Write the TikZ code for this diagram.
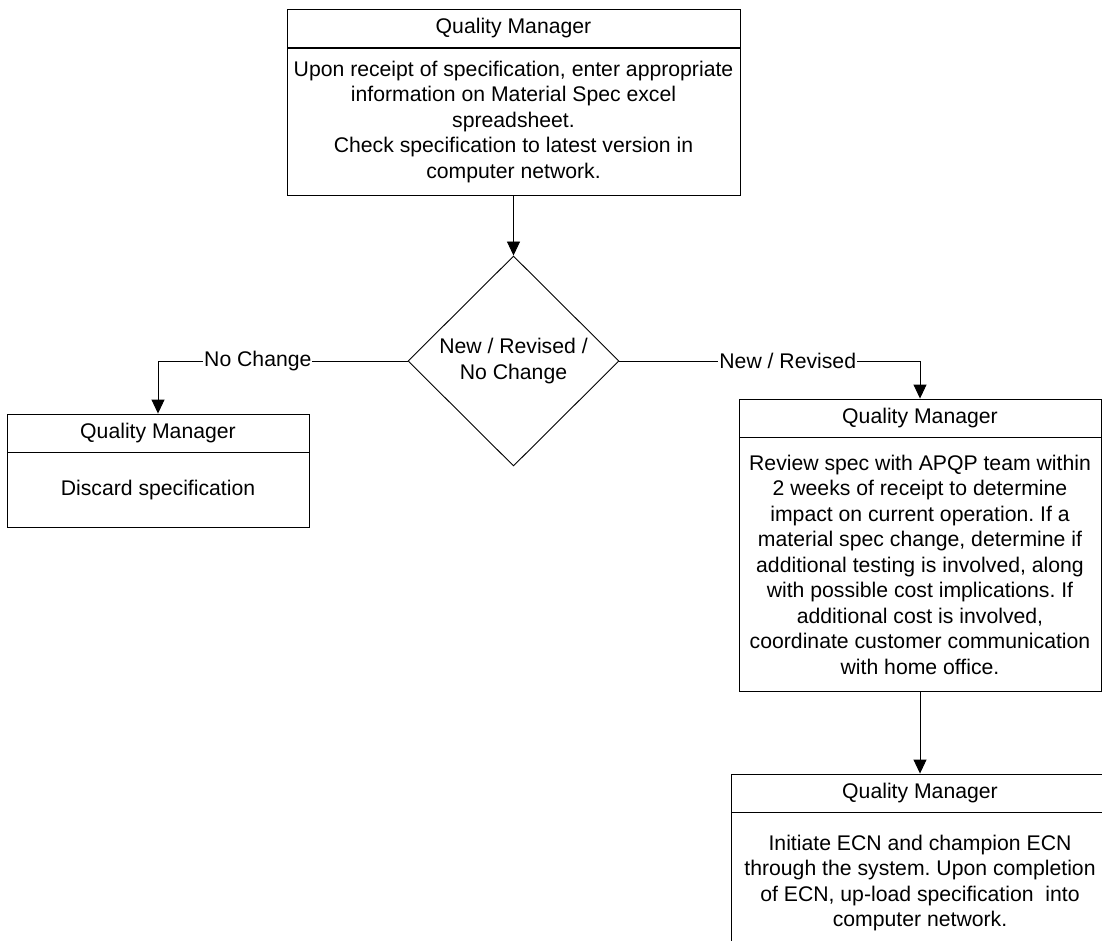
\documentclass[tikz,border=0pt]{standalone}
\usepackage{fontspec}
\setmainfont{Liberation Sans}
\usetikzlibrary{arrows.meta, positioning, shapes.geometric}

\newcommand\qmfont{\fontsize{21.2}{25.5}\selectfont\frenchspacing}

\begin{document}
\begin{tikzpicture}[
    x=1pt, y=-1pt,
    % Node styles
    title/.style={
        rectangle, draw=black, line width=0.9pt,
        minimum width=#1, minimum height=38,
        inner sep=0pt, font=\qmfont, fill=white,
    },
    body/.style={
        rectangle, draw=black, line width=0.9pt,
        minimum width=#1, align=center,
        inner sep=0pt, font=\qmfont, fill=white,
    },
    decision/.style={
        diamond, aspect=1, draw=black, line width=0.9pt,
        minimum width=211, minimum height=210,
        inner sep=0pt, align=center, font=\qmfont,
    },
    lbl/.style={
        font=\qmfont, fill=white, inner sep=1pt,
    },
    flow/.style={
        draw=black, line width=0.9pt,
        -{Triangle[length=14pt, width=13pt]},
    },
]

\useasboundingbox (0,0) rectangle (1102,941);

% === Start: record the specification ===
\node[title=453] (qm1) at (513.5,28.5) {Quality Manager};
\node[body=453, minimum height=147, below=0pt of qm1] (spec1)
    {Upon receipt of specification, enter appropriate\\
     information on Material Spec excel\\
     spreadsheet.\\
     Check specification to latest version in\\
     computer network.};

% === Decision ===
\node[decision] (choice) at (513.5,361) {New / Revised /\\No Change};

% === No change branch ===
\node[title=302] (qm2) at (158,433) {Quality Manager};
\node[body=302, minimum height=75, below=0pt of qm2] (discard)
    {Discard specification};

% === New / revised branch ===
\node[title=362] (qm3) at (920,418) {Quality Manager};
\node[body=362, minimum height=254, below=0pt of qm3] (review)
    {Review spec with APQP team within\\
     2 weeks of receipt to determine\\
     impact on current operation. If a\\
     material spec change, determine if\\
     additional testing is involved, along\\
     with possible cost implications. If\\
     additional cost is involved,\\
     coordinate customer communication\\
     with home office.};

\node[title=378] (qm4) at (920,793) {Quality Manager};
\node[body=378, minimum height=140, below=0pt of qm4] (ecn)
    {Initiate ECN and champion ECN\\
     through the system. Upon completion\\
     of ECN, up-load specification\ \ into\\
     computer network.};

% === Connectors ===
\draw[flow] (spec1.south) -- (choice.north);
\draw[flow] (choice.west) -| (qm2.north)
    node[lbl, pos=0.3] {No Change};
\draw[flow] (choice.east) -| (qm3.north)
    node[lbl, pos=0.28] {New / Revised};
\draw[flow] (review.south) -- (qm4.north);

\end{tikzpicture}
\end{document}
